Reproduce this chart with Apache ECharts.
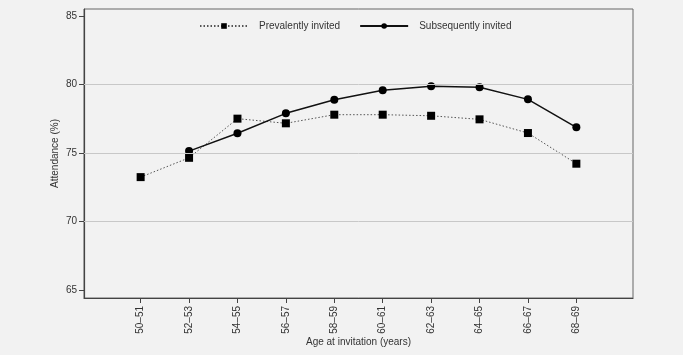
<!DOCTYPE html>
<html><head><meta charset="utf-8">
<script src="https://cdn.jsdelivr.net/npm/echarts@6/dist/echarts.min.js"></script>
<style>html,body{margin:0;padding:0;background:#f2f2f2}#c{width:683px;height:355px}</style>
</head><body><div id="c"></div>
<script>
const categories = ['50–51','52–53','54–55','56–57','58–59','60–61','62–63','64–65','66–67','68–69'];
const prevalent = [73.25, 74.66, 77.52, 77.18, 77.81, 77.81, 77.73, 77.47, 76.47, 74.23];
const subsequent = [null, 75.15, 76.45, 77.91, 78.9, 79.59, 79.88, 79.81, 78.93, 76.89];
const yTicks = [65, 70, 75, 80, 85];
const gridValues = [70, 75, 80];

const font = 'Liberation Sans, Arial, sans-serif';
const toPts = arr => arr.map((v, i) => v == null ? null : [i, v]).filter(p => p);
const chart = echarts.init(document.getElementById('c'));
chart.setOption({
  backgroundColor: '#f2f2f2',
  animation: false,
  textStyle: { fontFamily: font },
  grid: { left: 84, right: 50, top: 9, bottom: 57, outerBoundsMode: 'none', show: true, borderColor: '#666', borderWidth: 1, backgroundColor: '#f2f2f2' },
  legend: {
    top: 16, left: 194, itemWidth: 48, itemHeight: 7, itemGap: 19,
    textStyle: { fontSize: 10, color: '#333', fontFamily: font, padding: [0, 0, 0, 6] },
    data: ['Prevalently invited', 'Subsequently invited']
  },
  xAxis: {
    type: 'value', min: -1.17, max: 10.17,
    name: 'Age at invitation (years)', nameLocation: 'middle', nameGap: 39, nameMoveOverlap: false,
    nameTextStyle: { fontSize: 10, color: '#333', fontFamily: font },
    axisLine: { show: true, onZero: false, lineStyle: { color: '#444', width: 1.2 } },
    axisTick: { show: true, length: 5, customValues: categories.map((c, i) => i), lineStyle: { color: '#444' } },
    axisLabel: { customValues: categories.map((c, i) => i), rotate: 90, margin: 8, fontSize: 10, color: '#333', formatter: v => categories[Math.round(v)] },
    splitLine: { show: false }
  },
  yAxis: {
    type: 'value', min: 64.42, max: 85.53,
    name: 'Attendance (%)', nameLocation: 'middle', nameGap: 24, nameMoveOverlap: false,
    nameTextStyle: { fontSize: 10, color: '#333', fontFamily: font },
    axisLine: { show: true, onZero: false, lineStyle: { color: '#444', width: 1.2 } },
    axisTick: { show: true, length: 5, customValues: yTicks, lineStyle: { color: '#444' } },
    axisLabel: { customValues: yTicks, margin: 7, fontSize: 10, color: '#333' },
    splitLine: { show: false }
  },
  series: [
    {
      name: 'Prevalently invited', type: 'line', data: toPts(prevalent),
      symbol: 'rect', symbolSize: 8,
      itemStyle: { color: '#000' },
      lineStyle: { color: '#555', width: 1, type: [1.5, 2] },
      markLine: {
        silent: true, symbol: 'none', label: { show: false },
        lineStyle: { color: '#c8c8c8', width: 1, type: 'solid' },
        data: gridValues.map(v => ({ yAxis: v }))
      },
      z: 3
    },
    {
      name: 'Subsequently invited', type: 'line', data: toPts(subsequent),
      symbol: 'circle', symbolSize: 8,
      itemStyle: { color: '#000' },
      lineStyle: { color: '#111', width: 1.5, type: 'solid' },
      z: 4
    }
  ]
});
</script></body></html>
